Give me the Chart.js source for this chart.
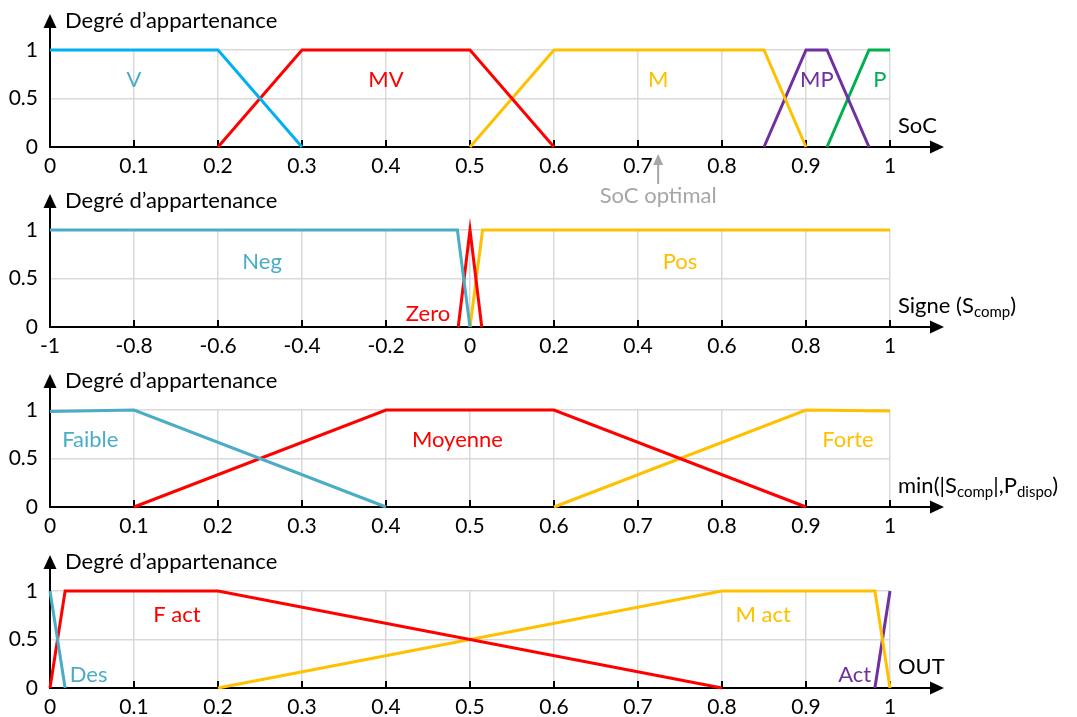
<!DOCTYPE html>
<html lang="fr">
<head>
<meta charset="utf-8">
<title>Fonctions d'appartenance</title>
<script src="https://cdn.jsdelivr.net/npm/chart.js@4.4.0/dist/chart.umd.min.js"></script>
<style>
  html, body { margin: 0; padding: 0; background: #fff; }
  #figure { position: relative; width: 1077px; height: 717px; overflow: hidden; }
  #figure canvas { position: absolute; left: 0; }
</style>
</head>
<body>
<div id="figure">
  <canvas id="c1" width="1077" height="215" style="top:0"></canvas>
  <canvas id="c2" width="1077" height="180" style="top:180px"></canvas>
  <canvas id="c3" width="1077" height="180" style="top:360px"></canvas>
  <canvas id="c4" width="1077" height="176" style="top:541px"></canvas>
</div>
<script>
// --- Données ---

// SoC
const ticksSoC = [0, 0.1, 0.2, 0.3, 0.4, 0.5, 0.6, 0.7, 0.8, 0.9, 1];
const socV  = [[0, 1], [0.2, 1], [0.3, 0]];
const socMV = [[0.2, 0], [0.3, 1], [0.5, 1], [0.6, 0]];
const socM  = [[0.5, 0], [0.6, 1], [0.85, 1], [0.9, 0]];
const socMP = [[0.85, 0], [0.9, 1], [0.925, 1], [0.975, 0]];
const socP  = [[0.925, 0], [0.975, 1], [1, 1]];
const nomsSoC = ['V', 'MV', 'M', 'MP', 'P'];
const posNomsSoC = [[0.1, 0.69], [0.4, 0.69], [0.724, 0.69], [0.913, 0.69], [0.988, 0.69]];
const socOptimal = 0.724;

// Signe (Scomp)
const ticksSigne = [-1, -0.8, -0.6, -0.4, -0.2, 0, 0.2, 0.4, 0.6, 0.8, 1];
const signeNeg  = [[-1, 1], [-0.03, 1], [0, 0]];
const signeZero = [[-0.028, 0], [0, 1], [0.028, 0]];
const signePos  = [[0, 0], [0.03, 1], [1, 1]];
const nomsSigne = ['Neg', 'Zero', 'Pos'];
const posNomsSigne = [[-0.495, 0.67], [-0.1, 0.14], [0.5, 0.67]];

// min(|Scomp|, Pdispo)
const ticksMin = [0, 0.1, 0.2, 0.3, 0.4, 0.5, 0.6, 0.7, 0.8, 0.9, 1];
const minFaible  = [[0, 0.985], [0.1, 1], [0.4, 0]];
const minMoyenne = [[0.1, 0], [0.4, 1], [0.6, 1], [0.9, 0]];
const minForte   = [[0.6, 0], [0.9, 1], [1, 0.99]];
const nomsMin = ['Faible', 'Moyenne', 'Forte'];
const posNomsMin = [[0.048, 0.69], [0.485, 0.69], [0.95, 0.69]];

// OUT
const ticksOut = [0, 0.1, 0.2, 0.3, 0.4, 0.5, 0.6, 0.7, 0.8, 0.9, 1];
const outDes  = [[0, 1], [0.018, 0]];
const outFact = [[0, 0], [0.018, 1], [0.2, 1], [0.8, 0]];
const outMact = [[0.2, 0], [0.8, 1], [0.982, 1], [1, 0]];
const outAct  = [[0.982, 0], [1, 1]];
const nomsOut = ['Des', 'F act', 'M act', 'Act'];
const posNomsOut = [[0.046, 0.13], [0.151, 0.75], [0.849, 0.75], [0.958, 0.13]];

// --- Styles ---
const BLEU = '#00B0F0', TURQUOISE = '#4BACC6', ROUGE = '#FF0000', OR = '#FFC000',
      VIOLET = '#7030A0', VERT = '#00B050', GRIS = '#A6A6A6', GRILLE = '#D9D9D9';
const POLICE = 'Lato, "Liberation Sans", sans-serif';
const TAILLE = 22;    // textes
const TAILLE_GRAD = 21; // graduations
const HAUT = 50;      // pixel de y = 1 dans chaque panneau
const BAS = 147;      // pixel de y = 0
const GAUCHE = 50;    // pixel du début de l'axe x
const DROITE = 890;   // pixel de la fin de l'axe x

function fmt(v) {
  return String(Math.round(v * 100) / 100);
}

// dessine un texte avec des morceaux en indice
function texteIndice(ctx, morceaux, x, y) {
  let cx = x;
  morceaux.forEach(([txt, indice]) => {
    ctx.font = (indice ? '15px ' : TAILLE + 'px ') + POLICE;
    ctx.fillText(txt, cx, indice ? y + 4 : y);
    cx += ctx.measureText(txt).width;
  });
}

function decor(cfg) {
  return {
    id: 'decor',
    beforeDatasetsDraw(chart) {
      const ctx = chart.ctx, a = chart.chartArea, sx = chart.scales.x;
      ctx.save();
      ctx.strokeStyle = '#000';
      ctx.fillStyle = '#000';
      ctx.lineWidth = 2;
      // axe vertical + flèche
      ctx.beginPath();
      ctx.moveTo(a.left, a.bottom + 1);
      ctx.lineTo(a.left, a.top - 22);
      ctx.stroke();
      ctx.beginPath();
      ctx.moveTo(a.left, a.top - 36);
      ctx.lineTo(a.left - 6.5, a.top - 22);
      ctx.lineTo(a.left + 6.5, a.top - 22);
      ctx.closePath();
      ctx.fill();
      // axe horizontal + flèche
      ctx.beginPath();
      ctx.moveTo(a.left - 1, a.bottom);
      ctx.lineTo(a.right + 41, a.bottom);
      ctx.stroke();
      ctx.beginPath();
      ctx.moveTo(a.right + 54, a.bottom);
      ctx.lineTo(a.right + 40, a.bottom - 6.5);
      ctx.lineTo(a.right + 40, a.bottom + 6.5);
      ctx.closePath();
      ctx.fill();
      // graduations
      ctx.beginPath();
      cfg.ticksX.forEach(v => {
        const px = sx.getPixelForValue(v);
        ctx.moveTo(px, a.bottom);
        ctx.lineTo(px, a.bottom - 7);
      });
      ctx.stroke();
      ctx.restore();
    },
    afterDatasetsDraw(chart) {
      const ctx = chart.ctx, a = chart.chartArea;
      const sx = chart.scales.x, sy = chart.scales.y;
      ctx.save();
      // titre de l'axe vertical
      ctx.fillStyle = '#000';
      ctx.textAlign = 'left';
      ctx.textBaseline = 'alphabetic';
      ctx.font = TAILLE + 'px ' + POLICE;
      ctx.fillText('Degré d\u2019appartenance', a.left + 15, a.top - 22);
      // titre de l'axe horizontal
      texteIndice(ctx, cfg.titreX, a.right + 8, a.bottom - 14);
      // noms des ensembles flous
      ctx.textAlign = 'center';
      ctx.textBaseline = 'middle';
      ctx.font = TAILLE + 'px ' + POLICE;
      cfg.noms.forEach((nom, i) => {
        ctx.fillStyle = cfg.couleursNoms[i];
        ctx.fillText(nom, sx.getPixelForValue(cfg.posNoms[i][0]), sy.getPixelForValue(cfg.posNoms[i][1]));
      });
      // repère "SoC optimal"
      if (cfg.repere !== undefined) {
        const px = sx.getPixelForValue(cfg.repere);
        ctx.strokeStyle = GRIS;
        ctx.fillStyle = GRIS;
        ctx.lineWidth = 2;
        ctx.beginPath();
        ctx.moveTo(px, a.bottom + 17);
        ctx.lineTo(px, a.bottom + 37);
        ctx.stroke();
        ctx.beginPath();
        ctx.moveTo(px, a.bottom + 7);
        ctx.lineTo(px - 5, a.bottom + 18);
        ctx.lineTo(px + 5, a.bottom + 18);
        ctx.closePath();
        ctx.fill();
        ctx.font = TAILLE + 'px ' + POLICE;
        ctx.textBaseline = 'middle';
        ctx.fillText(cfg.texteRepere, px, a.bottom + 49);
      }
      ctx.restore();
    }
  };
}

function creerPanneau(id, cfg) {
  const canvas = document.getElementById(id);
  const hauteur = canvas.height;
  const datasets = cfg.series.map((pts, i) => ({
    data: pts.map(p => ({ x: p[0], y: p[1] })),
    borderColor: cfg.couleurs[i],
    backgroundColor: cfg.couleurs[i],
    borderWidth: 3,
    showLine: true,
    pointRadius: 0,
    tension: 0,
    fill: false,
    clip: false
  }));
  return new Chart(canvas.getContext('2d'), {
    type: 'scatter',
    data: { datasets },
    options: {
      responsive: false,
      animation: false,
      events: [],
      layout: { padding: { top: HAUT, right: 1077 - DROITE, left: 0, bottom: 0 } },
      plugins: { legend: { display: false }, tooltip: { enabled: false } },
      scales: {
        x: {
          type: 'linear',
          min: cfg.ticksX[0],
          max: cfg.ticksX[cfg.ticksX.length - 1],
          afterBuildTicks: s => { s.ticks = cfg.ticksX.map(v => ({ value: v })); },
          afterFit: s => { s.height = hauteur - BAS; },
          grid: { color: GRILLE, lineWidth: 1.5, drawTicks: false },
          border: { display: false },
          ticks: {
            padding: 7, color: '#000', autoSkip: false, maxRotation: 0,
            font: { family: POLICE, size: TAILLE_GRAD },
            callback: v => fmt(v)
          }
        },
        y: {
          type: 'linear',
          min: 0,
          max: 1,
          afterBuildTicks: s => { s.ticks = [0, 0.5, 1].map(v => ({ value: v })); },
          afterFit: s => { s.width = GAUCHE; },
          grid: { color: GRILLE, lineWidth: 1.5, drawTicks: false },
          border: { display: false },
          ticks: {
            padding: 12, color: '#000',
            font: { family: POLICE, size: TAILLE_GRAD },
            callback: v => fmt(v)
          }
        }
      }
    },
    plugins: [decor(cfg)]
  });
}

creerPanneau('c1', {
  ticksX: ticksSoC,
  series: [socV, socMV, socM, socMP, socP],
  couleurs: [BLEU, ROUGE, OR, VIOLET, VERT],
  noms: nomsSoC,
  posNoms: posNomsSoC,
  couleursNoms: [TURQUOISE, ROUGE, OR, VIOLET, VERT],
  titreX: [['SoC', false]],
  repere: socOptimal,
  texteRepere: 'SoC optimal'
});

creerPanneau('c2', {
  ticksX: ticksSigne,
  series: [signeNeg, signeZero, signePos],
  couleurs: [TURQUOISE, ROUGE, OR],
  noms: nomsSigne,
  posNoms: posNomsSigne,
  couleursNoms: [TURQUOISE, ROUGE, OR],
  titreX: [['Signe (S', false], ['comp', true], [')', false]]
});

creerPanneau('c3', {
  ticksX: ticksMin,
  series: [minFaible, minMoyenne, minForte],
  couleurs: [TURQUOISE, ROUGE, OR],
  noms: nomsMin,
  posNoms: posNomsMin,
  couleursNoms: [TURQUOISE, ROUGE, OR],
  titreX: [['min(|S', false], ['comp', true], ['|,P', false], ['dispo', true], [')', false]]
});

creerPanneau('c4', {
  ticksX: ticksOut,
  series: [outDes, outFact, outMact, outAct],
  couleurs: [TURQUOISE, ROUGE, OR, VIOLET],
  noms: nomsOut,
  posNoms: posNomsOut,
  couleursNoms: [TURQUOISE, ROUGE, OR, VIOLET],
  titreX: [['OUT', false]]
});
</script>
</body>
</html>
